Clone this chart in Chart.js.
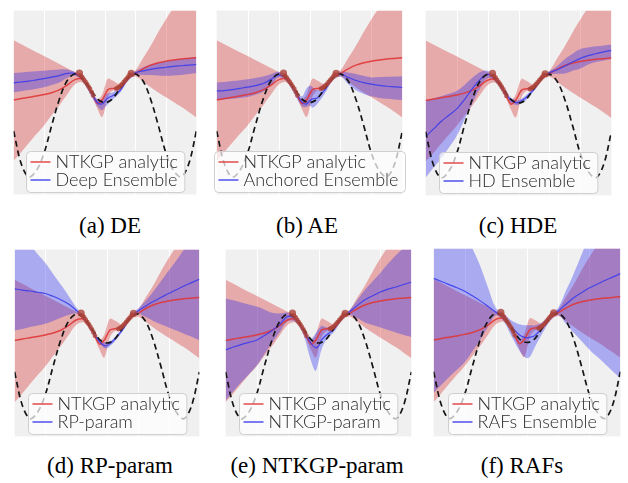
<!DOCTYPE html>
<html><head><meta charset="utf-8">
<script src="https://cdn.jsdelivr.net/npm/chart.js@4.4.0/dist/chart.umd.min.js"></script>
<style>
html,body{margin:0;padding:0;background:#fff;width:628px;height:483px;overflow:hidden;position:relative}
canvas{position:absolute}
.cap{position:absolute;font-family:"Liberation Serif","Times New Roman",serif;font-size:23px;line-height:23px;color:#000;white-space:nowrap;transform:translateX(-50%)}
</style></head><body>
<canvas id="pa" width="190" height="191" style="left:10px;top:7px"></canvas>
<canvas id="pb" width="193" height="191" style="left:213px;top:7px"></canvas>
<canvas id="pc" width="193" height="192" style="left:422px;top:7px"></canvas>
<canvas id="pd" width="192" height="194" style="left:11px;top:246px"></canvas>
<canvas id="pe" width="193" height="194" style="left:222px;top:246px"></canvas>
<canvas id="pf" width="194" height="195" style="left:430px;top:245px"></canvas>
<div class="cap" id="ca" style="left:110px;top:214px"></div>
<div class="cap" id="cb" style="left:307px;top:214px"></div>
<div class="cap" id="cc" style="left:518px;top:214px"></div>
<div class="cap" id="cd" style="left:110px;top:454px"></div>
<div class="cap" id="ce" style="left:317px;top:454px"></div>
<div class="cap" id="cf" style="left:522px;top:454px"></div>
<script>
// ---- data ----
const xGrid = [-3,-2.75,-2.5,-2.25,-2,-1.75,-1.5,-1.25,-1,-0.75,-0.5,-0.25,-0.1,0,0.1,0.25,0.5,0.75,1,1.25,1.5,1.75,2,2.25,2.5,2.75,3];
const gridTicks = [-2,-1,0,1,2];
const trueY = [-0.93,-2.0,-2.43,-2.22,-1.65,-0.75,0.1,0.7,0.93,0.8,0.47,0.12,0.02,0,0.02,0.12,0.47,0.8,0.93,0.7,0.1,-0.75,-1.65,-2.22,-2.43,-2.0,-0.93];
const trainX = [-0.84,-0.79,-0.74,-0.69,-0.64,-0.59,-0.54,-0.49,-0.44,-0.39,0.37,0.42,0.47,0.52,0.57,0.62,0.67,0.72,0.77,0.82,0.86];
const trainY = [0.96,0.88,0.82,0.74,0.67,0.6,0.52,0.44,0.34,0.23,0.45,0.48,0.51,0.56,0.61,0.67,0.73,0.79,0.85,0.91,0.95];

const ntkMean  = [0.08,0.13,0.17,0.21,0.26,0.32,0.41,0.56,0.74,0.76,0.45,-0.03,0.08,0.25,0.42,0.46,0.5,0.8,0.95,1.1,1.22,1.3,1.35,1.39,1.42,1.44,1.46];
const ntkUpper = [2.03,1.9,1.77,1.64,1.52,1.39,1.26,1.13,1.0,0.92,0.55,0.1,0.25,0.55,0.78,0.72,0.6,0.9,1.05,1.45,1.85,2.3,2.72,3.1,3.5,3.9,4.3];
const ntkLower = [-1.9,-1.62,-1.32,-1.03,-0.75,-0.42,-0.1,0.25,0.58,0.66,0.35,-0.2,-0.47,-0.2,0.2,0.38,0.42,0.72,0.85,0.68,0.5,0.33,0.17,0.02,-0.14,-0.31,-0.49];

const deMean  = [0.64,0.67,0.7,0.74,0.78,0.83,0.88,0.95,0.95,0.78,0.4,0.0,-0.05,0.05,0.15,0.22,0.4,0.78,0.97,1.03,1.08,1.12,1.15,1.18,1.2,1.22,1.24];
const deUpper = [0.96,0.98,1.0,1.02,1.04,1.06,1.08,1.08,1.0,0.84,0.46,0.1,0.05,0.2,0.3,0.33,0.5,0.85,1.02,1.15,1.25,1.3,1.35,1.39,1.42,1.46,1.49];
const deLower = [0.33,0.37,0.41,0.45,0.5,0.57,0.65,0.8,0.88,0.72,0.3,-0.12,-0.25,-0.15,-0.05,0.1,0.32,0.7,0.9,0.9,0.9,0.88,0.87,0.88,0.9,0.93,0.96];

const aeMean  = [0.37,0.39,0.42,0.46,0.5,0.55,0.62,0.75,0.9,0.78,0.42,0.02,-0.05,0.05,0.12,0.15,0.42,0.8,0.93,0.82,0.72,0.65,0.6,0.56,0.53,0.51,0.49];
const aeUpper = [0.65,0.67,0.7,0.73,0.76,0.8,0.85,0.92,1.0,0.86,0.5,0.2,0.45,0.55,0.5,0.4,0.55,0.88,1.0,0.98,0.93,0.87,0.82,0.83,0.84,0.85,0.86];
const aeLower = [0.08,0.1,0.12,0.15,0.18,0.25,0.35,0.55,0.82,0.7,0.3,-0.12,-0.15,-0.1,-0.17,-0.05,0.3,0.72,0.85,0.6,0.4,0.28,0.2,0.15,0.12,0.1,0.08];

const hdeMean  = [-1.08,-0.85,-0.6,-0.4,-0.2,0.1,0.45,0.75,0.93,0.78,0.42,0.1,0.02,0.02,0.08,0.18,0.45,0.8,0.98,1.08,1.2,1.33,1.45,1.54,1.6,1.66,1.71];
const hdeUpper = [0.08,0.15,0.22,0.3,0.39,0.58,0.81,1.0,1.05,0.85,0.5,0.18,0.1,0.1,0.15,0.25,0.52,0.86,1.03,1.2,1.43,1.6,1.75,1.8,1.84,1.87,1.9];
const hdeLower = [-2.43,-2.1,-1.8,-1.45,-1.08,-0.55,-0.02,0.45,0.8,0.7,0.35,0.02,-0.06,-0.06,0.0,0.1,0.38,0.74,0.92,0.95,0.96,1.05,1.12,1.25,1.33,1.38,1.43];

const rpMean  = [1.74,1.7,1.67,1.63,1.59,1.5,1.39,1.25,1.05,0.8,0.42,0.05,-0.08,-0.08,-0.02,0.12,0.42,0.8,1.02,1.18,1.33,1.46,1.59,1.71,1.83,1.94,2.05];
const rpUpper = [3.7,3.4,3.15,2.85,2.57,2.22,1.88,1.52,1.15,0.85,0.47,0.1,0.02,0.03,0.06,0.18,0.48,0.86,1.1,1.35,1.65,1.98,2.32,2.65,3.0,3.35,3.7];
const rpLower = [0.4,0.45,0.51,0.56,0.62,0.71,0.81,0.9,0.95,0.75,0.37,0.0,-0.15,-0.17,-0.1,0.05,0.36,0.74,0.94,0.84,0.71,0.6,0.5,0.4,0.3,0.2,0.09];

const npMean  = [-0.22,-0.13,-0.05,0.02,0.09,0.24,0.4,0.6,0.85,0.78,0.42,0.0,-0.15,-0.1,0.1,0.25,0.45,0.8,1.0,1.2,1.39,1.52,1.64,1.73,1.8,1.88,1.95];
const npUpper = [1.43,1.37,1.3,1.24,1.17,1.08,0.97,0.95,0.98,0.85,0.5,0.15,0.3,0.45,0.55,0.5,0.55,0.88,1.05,1.38,1.7,1.98,2.26,2.55,2.82,3.05,3.3];
const npLower = [-1.85,-1.55,-1.27,-1.0,-0.73,-0.36,0.0,0.35,0.7,0.68,0.3,-0.55,-0.9,-0.6,-0.2,0.1,0.35,0.72,0.9,0.8,0.66,0.58,0.5,0.42,0.34,0.26,0.19];

const rafMean  = [2.05,1.95,1.85,1.75,1.64,1.49,1.33,1.15,0.97,0.8,0.5,0.25,0.17,0.15,0.17,0.22,0.48,0.8,1.0,1.22,1.43,1.59,1.74,1.86,1.98,2.09,2.2];
const rafUpper = [6.0,5.4,4.8,4.2,3.6,3.0,2.44,1.75,1.1,0.92,0.7,0.58,0.55,0.55,0.55,0.55,0.65,0.9,1.1,1.65,2.2,2.8,3.45,4.0,4.5,5.0,5.6];
const rafLower = [-1.61,-1.35,-1.1,-0.87,-0.63,-0.27,0.09,0.5,0.87,0.68,0.2,-0.25,-0.45,-0.5,-0.45,-0.15,0.3,0.7,0.88,0.6,0.31,0.05,-0.22,-0.45,-0.68,-0.92,-1.14];

const baseName = "NTKGP analytic";
const ensembleNames = ["Deep Ensemble","Anchored Ensemble","HD Ensemble","RP-param","NTKGP-param","RAFs Ensemble"];
const captions = ["(a) DE","(b) AE","(c) HDE","(d) RP-param","(e) NTKGP-param","(f) RAFs"];

// ---- style ----
const RED_FILL = 'rgba(214,39,40,0.35)';
const BLUE_FILL = 'rgba(40,40,240,0.35)';
const RED_LINE = 'rgba(222,55,55,0.9)';
const BLUE_LINE = 'rgba(60,60,235,0.9)';
const DOT = 'rgba(172,68,58,0.8)';

const pts = ys => xGrid.map((x,i)=>({x:x,y:ys[i]}));

const bgPlugin = {
  id:'bg',
  beforeDraw(chart){
    const {ctx, chartArea:a, scales} = chart;
    ctx.save();
    ctx.fillStyle = '#f0f0f0';
    ctx.fillRect(a.left,a.top,a.width,a.height);
    ctx.strokeStyle = '#ffffff';
    ctx.lineWidth = 1;
    gridTicks.forEach(v=>{
      const x = Math.round(scales.x.getPixelForValue(v))+0.5;
      ctx.beginPath(); ctx.moveTo(x,a.top); ctx.lineTo(x,a.bottom); ctx.stroke();
    });
    ctx.restore();
  }
};

function legendPlugin(name){
  return {
    id:'customLegend',
    afterDraw(chart){
      const {ctx, chartArea:a} = chart;
      ctx.save();
      ctx.font = '300 18px Lato, "Open Sans", sans-serif';
      const tw = Math.max(ctx.measureText(baseName).width, ctx.measureText(name).width);
      const padL=4, sample=20, gap=5, padR=7;
      const w = padL+sample+gap+tw+padR;
      const h = 41;
      const x0 = Math.round((a.left+a.right)/2 - w/2)+0.5;
      const y0 = Math.round(a.bottom - 2 - h)+0.5;
      const r = 4;
      ctx.beginPath();
      ctx.moveTo(x0+r,y0); ctx.lineTo(x0+w-r,y0); ctx.arcTo(x0+w,y0,x0+w,y0+r,r);
      ctx.lineTo(x0+w,y0+h-r); ctx.arcTo(x0+w,y0+h,x0+w-r,y0+h,r);
      ctx.lineTo(x0+r,y0+h); ctx.arcTo(x0,y0+h,x0,y0+h-r,r);
      ctx.lineTo(x0,y0+r); ctx.arcTo(x0,y0,x0+r,y0,r); ctx.closePath();
      ctx.fillStyle='rgba(255,255,255,0.72)'; ctx.fill();
      ctx.strokeStyle='#cfcfcf'; ctx.lineWidth=1; ctx.stroke();
      const rows=[[baseName,RED_LINE,y0+10.5],[name,BLUE_LINE,y0+28.5]];
      rows.forEach(([t,c,yy])=>{
        ctx.strokeStyle=c; ctx.lineWidth=1.5;
        ctx.beginPath(); ctx.moveTo(x0+padL,yy); ctx.lineTo(x0+padL+sample,yy); ctx.stroke();
        ctx.fillStyle='#2a2a2a'; ctx.textBaseline='middle'; ctx.textAlign='left';
        ctx.fillText(t, x0+padL+sample+gap, yy+0.5);
      });
      ctx.restore();
    }
  };
}

function band(ys, fill, col, order){
  return {data:pts(ys), fill:fill, backgroundColor:col, borderColor:'transparent', borderWidth:0, pointRadius:0, tension:0.35, order:order};
}
function line(ys, col, w, order, dash){
  return {data:pts(ys), fill:false, borderColor:col, borderWidth:w, pointRadius:0, tension:0.35, order:order, borderDash:dash||[]};
}

function makeChart(id, bm, bu, bl, name){
  new Chart(document.getElementById(id), {
    type:'line',
    data:{datasets:[
      band(ntkUpper,'+1',RED_FILL,11),
      band(ntkLower,false,'transparent',12),
      band(bu,'+1',BLUE_FILL,9),
      band(bl,false,'transparent',10),
      line(ntkMean,RED_LINE,1.5,6),
      line(bm,BLUE_LINE,1.2,5),
      line(trueY,'#151515',1.7,4,[6,4]),
      {type:'scatter', data:trainX.map((x,i)=>({x:x,y:trainY[i]})),
       pointRadius:trainX.map((x,i)=>(i===0||i===trainX.length-1)?3.6:2.4),
       pointHoverRadius:2.4, backgroundColor:DOT, borderWidth:0, order:2}
    ]},
    options:{
      animation:false, responsive:false, devicePixelRatio:1,
      layout:{padding:0},
      plugins:{legend:{display:false}, tooltip:{enabled:false}},
      scales:{
        x:{type:'linear', min:-3, max:3, display:false},
        y:{type:'linear', min:-3, max:3, display:false}
      }
    },
    plugins:[bgPlugin, legendPlugin(name)]
  });
}

makeChart('pa', deMean, deUpper, deLower, ensembleNames[0]);
makeChart('pb', aeMean, aeUpper, aeLower, ensembleNames[1]);
makeChart('pc', hdeMean, hdeUpper, hdeLower, ensembleNames[2]);
makeChart('pd', rpMean, rpUpper, rpLower, ensembleNames[3]);
makeChart('pe', npMean, npUpper, npLower, ensembleNames[4]);
makeChart('pf', rafMean, rafUpper, rafLower, ensembleNames[5]);
['ca','cb','cc','cd','ce','cf'].forEach((id,i)=>{document.getElementById(id).textContent=captions[i];});
</script>
</body></html>
